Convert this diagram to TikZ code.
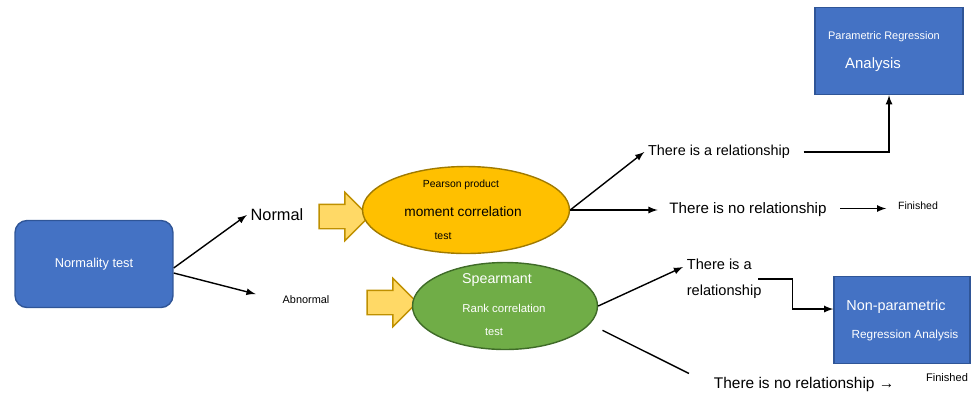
\documentclass[tikz,border=0pt]{standalone}
\usepackage{fontspec}
\setmainfont{Liberation Sans}
\usepackage{tikz}
\usetikzlibrary{shapes.geometric,shapes.arrows,arrows}
\definecolor{boxblue}{HTML}{4472C4}
\definecolor{boxedge}{HTML}{2F5597}
\definecolor{ovalorange}{HTML}{FFC000}
\definecolor{orangeedge}{HTML}{A07A00}
\definecolor{ovalgreen}{HTML}{70AD47}
\definecolor{greenedge}{HTML}{3F6B28}
\definecolor{arrowyellow}{HTML}{FFD966}
\definecolor{arrowedge}{HTML}{BF9000}
\newcommand{\fsz}[1]{\fontsize{#1}{#1}\selectfont}

\begin{document}
\begin{tikzpicture}[x=0.02cm,y=-0.02cm]
	\tikzstyle{box} = [rectangle, draw=boxedge, fill=boxblue, line width=0.8pt, text=white, inner sep=0pt]
	\tikzstyle{oval} = [ellipse, line width=0.8pt, inner sep=0pt, minimum height=1.74cm]
	\tikzstyle{blockarrow} = [single arrow, draw=arrowedge, fill=arrowyellow, line width=0.8pt, minimum height=1cm, minimum width=0.94cm, single arrow head extend=0.24cm, inner xsep=0pt, inner ysep=0.23cm]
	\tikzstyle{lbl} = [inner sep=2pt]
	\tikzstyle{conn} = [-latex, line width=0.8pt]
	\tikzstyle{plain} = [line width=0.8pt]
	\useasboundingbox (0,0) rectangle (973,393);
	\node[box, rounded corners=0.24cm, minimum width=3.16cm, minimum height=1.74cm] (normtest) at (94,264) {\fsz{7.3}Normality test};
	\node[lbl] (normal) at (277,215) {\fsz{9.3}Normal};
	\node[lbl] (abnormal) at (306,300) {\fsz{6.2}Abnormal};
	\node[blockarrow] (normarrow) at (338,216.5) {};
	\node[blockarrow] (abnarrow) at (386,302.5) {};
	\node[oval, draw=orangeedge, fill=ovalorange, minimum width=4.14cm] (pearson) at (466,210) {};
	\node[lbl] (pearson1) at (461,185) {\fsz{5.9}Pearson product};
	\node[lbl] (pearson2) at (463,212) {\fsz{7.8}moment correlation};
	\node[lbl] (pearson3) at (443,236) {\fsz{6}test};
	\node[oval, draw=greenedge, fill=ovalgreen, minimum width=3.7cm] (spear) at (505,306) {};
	\node[lbl, text=white] (spear1) at (497,280) {\fsz{8.1}Spearmant};
	\node[lbl, text=white] (spear2) at (504,308) {\fsz{6.5}Rank correlation};
	\node[lbl, text=white] (spear3) at (494,332) {\fsz{6.3}test};
	\node[lbl] (rel1) at (719,152) {\fsz{8.2}There is a relationship};
	\node[lbl] (norel1) at (748,210) {\fsz{8.6}There is no relationship};
	\node[lbl] (fin1) at (918,206) {\fsz{6}Finished};
	\node[box, minimum width=2.96cm, minimum height=1.74cm] (param) at (889,51) {};
	\node[lbl, text=white] (param1) at (884,37) {\fsz{6.25}Parametric Regression};
	\node[lbl, text=white] (param2) at (873,65) {\fsz{8.5}Analysis};
	\node[lbl, anchor=west, align=left, font={\fontsize{8.3}{14.7}\selectfont}] (rel2) at (683,279) {There is a\\relationship};
	\node[box, minimum width=2.72cm, minimum height=1.74cm] (nonparam) at (902,320) {};
	\node[lbl, text=white] (nonparam1) at (896,307) {\fsz{8.2}Non-parametric};
	\node[lbl, text=white] (nonparam2) at (905,335) {\fsz{6.7}Regression Analysis};
	\node[lbl, anchor=west] (norel2) at (710,384) {\fsz{8.8}There is no relationship →};
	\node[lbl] (fin2) at (947,378) {\fsz{6.3}Finished};
	\draw[conn] ([yshift=-0.08cm]normtest.east) -- (normal.west);
	\draw[conn, shorten >=0.48cm] ([yshift=-0.18cm]normtest.east) -- (abnormal.west);
	\draw[conn] (pearson.east) -- (rel1.west);
	\draw[conn, shorten >=0.16cm] (pearson.east) -- (norel1.west);
	\draw[conn] ([xshift=0.2cm]rel1.east) -| (param.south);
	\draw[conn, shorten <=0.2cm, shorten >=0.16cm] ([yshift=0.03cm]norel1.east) -- ([yshift=0.03cm]norel1.east -| fin1.west);
	\draw[conn] (spear.east) -- ([yshift=0.24cm]rel2.west);
	\draw[conn] ([xshift=-0.14cm]rel2.east) -- ++(34,0) |- ([yshift=0.22cm]nonparam.west);
	\draw[plain, shorten <=0.28cm, shorten >=0.47cm] (spear.-12) -- (norel2.west);
\end{tikzpicture}
\end{document}
